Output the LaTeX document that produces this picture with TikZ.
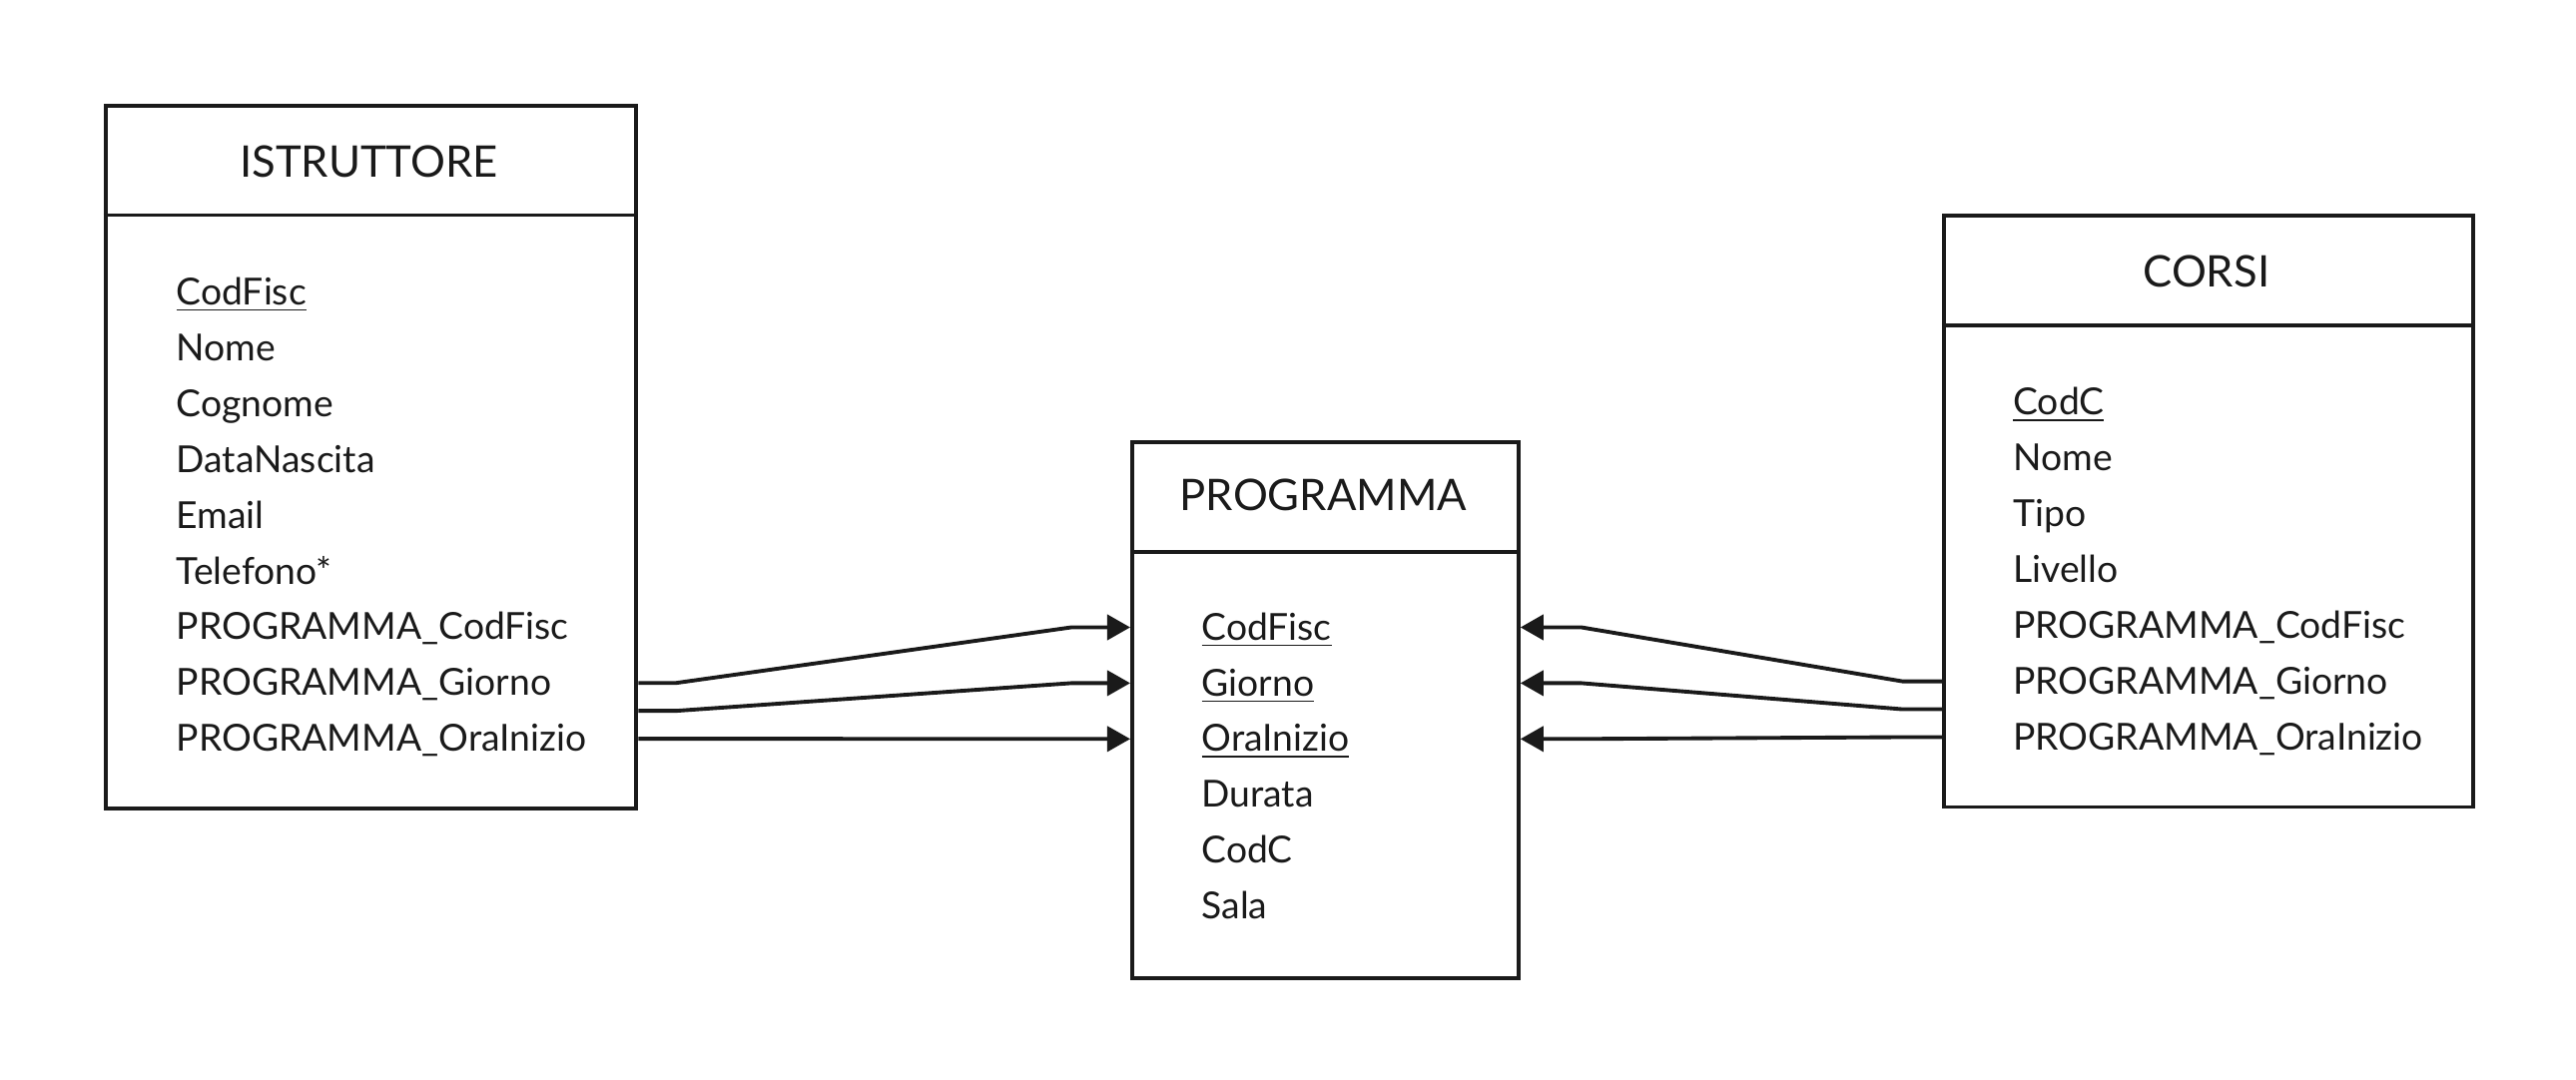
\documentclass[tikz,border=0pt]{standalone}
\usepackage{fontspec}
\setmainfont{Lato}
\usetikzlibrary{calc,arrows.meta}
\definecolor{ink}{HTML}{1A1A1A}
\tikzset{
  entity/.style={draw=ink, line width=1.1pt, inner sep=0pt, anchor=north west},
  ttl/.style={inner sep=0pt, text height=0.72em, text depth=0pt, font=\fontsize{12.4}{14}\selectfont, text=ink},
  attr/.style={inner sep=0pt, anchor=west, text height=0.72em, text depth=0pt, font=\fontsize{10.6}{13}\selectfont, text=ink},
  fk/.style={draw=ink, line width=1.1pt, -{Triangle[length=0.23cm,width=0.25cm]}},
  divider/.style={draw=ink, line width=1.1pt}
}
\begin{document}
\begin{tikzpicture}[x=0.01cm,y=-0.01cm]
\useasboundingbox (0,0) rectangle (2580,1082);
% ISTRUTTORE
\node[entity, minimum width=5.314cm, minimum height=7.042cm] (istr) at (103.7,103.7) {};
\draw[divider] (103.7,215.5) -- (635.1,215.5);
\node[ttl] (istrT) at (369.4,164.5) {ISTRUTTORE};
\foreach \t [count=\i] in {\underline{CodFisc},Nome,Cognome,DataNascita,Email,Telefono*,PROGRAMMA\_CodFisc,PROGRAMMA\_Giorno,PROGRAMMA\_OraInizio}
  \node[attr] (ia\i) at (176,{292.9+(\i-1)*55.9}) {\t};
% PROGRAMMA
\node[entity, minimum width=3.867cm, minimum height=5.364cm] (prog) at (1132,441) {};
\draw[divider] (1132,552.9) -- (1518.7,552.9);
\node[ttl] (progT) at (1325.4,498.6) {PROGRAMMA};
\foreach \t [count=\i] in {\underline{CodFisc},\underline{Giorno},\underline{OraInizio},Durata,CodC,Sala}
  \node[attr] (pa\i) at (1202.8,{628.5+(\i-1)*55.9}) {\t};
% CORSI
\node[entity, minimum width=5.298cm, minimum height=5.923cm] (corsi) at (1944.9,213.9) {};
\draw[divider] (1944.9,325.8) -- (2474.7,325.8);
\node[ttl] (corsiT) at (2209.8,274.8) {CORSI};
\foreach \t [count=\i] in {\underline{CodC},Nome,Tipo,Livello,PROGRAMMA\_CodFisc,PROGRAMMA\_Giorno,PROGRAMMA\_OraInizio}
  \node[attr] (ca\i) at (2015.6,{403.1+(\i-1)*55.9}) {\t};
% connectors ISTRUTTORE -> PROGRAMMA
\coordinate (im) at ($(ia8)!0.5!(ia9)$);
\coordinate (cm) at ($(ca6)!0.5!(ca7)$);
\draw[fk] (istr.east |- ia8) -- ++(38,0) -- ($(prog.west |- pa1)+(-59,0)$) -- (prog.west |- pa1);
\draw[fk] (istr.east |- im) -- ++(38,0) -- ($(prog.west |- pa2)+(-59,0)$) -- (prog.west |- pa2);
\draw[fk] (istr.east |- ia9) -- (prog.west |- pa3);
% connectors CORSI -> PROGRAMMA
\draw[fk] (corsi.west |- ca6) -- ++(-39.5,0) -- ($(prog.east |- pa1)+(61,0)$) -- (prog.east |- pa1);
\draw[fk] (corsi.west |- cm) -- ++(-39.5,0) -- ($(prog.east |- pa2)+(61,0)$) -- (prog.east |- pa2);
\draw[fk] (corsi.west |- ca7) -- ++(-39.5,0) -- ($(prog.east |- pa3)+(61,0)$) -- (prog.east |- pa3);
\end{tikzpicture}
\end{document}
